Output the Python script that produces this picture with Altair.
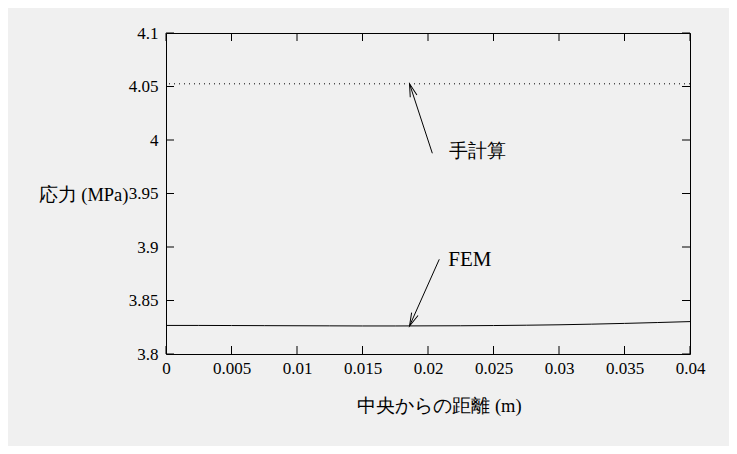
import math
import altair as alt
import pandas as pd

# ---- data ----
fem_x = [0.0, 0.0025, 0.005, 0.0075, 0.01, 0.0125, 0.015, 0.0175, 0.02,
         0.0225, 0.025, 0.0275, 0.03, 0.0325, 0.035, 0.0375, 0.04]
fem_y = [3.8267, 3.8267, 3.8266, 3.8265, 3.8264, 3.8263, 3.8262, 3.8262, 3.8263,
         3.8264, 3.8266, 3.8269, 3.8273, 3.8279, 3.8286, 3.8294, 3.8303]
hand_value = 4.0525

x_ticks = [0, 0.005, 0.01, 0.015, 0.02, 0.025, 0.03, 0.035, 0.04]
y_ticks = [3.8, 3.85, 3.9, 3.95, 4.0, 4.05, 4.1]

ann_text = ["手計算", "FEM"]
ann_text_x = [0.0216, 0.02155]
ann_text_y = [3.990, 3.8879]
arrow_x1 = [0.02033, 0.02086]
arrow_y1 = [3.9876, 3.8885]
arrow_x2 = [0.01859, 0.01859]
arrow_y2 = [4.0525, 3.8262]

# ---- layout / style ----
W, H = 524, 321
X_DOM = [0, 0.04]
Y_DOM = [3.8, 4.1]
FONT = "Liberation Serif"
BG = "#f0f0f0"

fem_df = pd.DataFrame({"x": fem_x, "y": fem_y})
xt_df = pd.DataFrame({"x": x_ticks})
yt_df = pd.DataFrame({"y": y_ticks})
ann_df = pd.DataFrame({"text": ann_text, "x": ann_text_x, "y": ann_text_y})

angles = []
for x1, y1, x2, y2 in zip(arrow_x1, arrow_y1, arrow_x2, arrow_y2):
    dx = (x2 - x1) * W / (X_DOM[1] - X_DOM[0])
    dy = -(y2 - y1) * H / (Y_DOM[1] - Y_DOM[0])
    angles.append(math.degrees(math.atan2(dx, -dy)) % 360)
arr_df = pd.DataFrame({"x1": arrow_x1, "y1": arrow_y1, "x2": arrow_x2,
                       "y2": arrow_y2, "angle": angles})

xs = alt.Scale(domain=X_DOM, nice=False, zero=False)
ys = alt.Scale(domain=Y_DOM, nice=False, zero=False)

x_axis = alt.Axis(values=x_ticks, format="~g", labelFont=FONT, labelFontSize=17,
                  labelColor="black", ticks=False, domain=False, grid=False,
                  labelPadding=6, labelOverlap=False, labelFlush=False,
                  title="中央からの距離 (m)", titleFont=FONT, titleFontSize=18.5,
                  titleFontWeight="normal", titleColor="black",
                  titleX=273, titleY=51, titleAlign="center",
                  titleBaseline="middle", titleAnchor="start")
y_axis = alt.Axis(values=y_ticks, format="~g", labelFont=FONT, labelFontSize=17,
                  labelColor="black", ticks=False, domain=False, grid=False,
                  labelPadding=8, labelOverlap=False, labelFlush=False,
                  title="応力 (MPa)", titleFont=FONT, titleFontSize=18.5,
                  titleFontWeight="normal", titleColor="black", titleAngle=0,
                  titleAlign="right", titleBaseline="middle",
                  titleX=-38, titleY=161, titleAnchor="start")

base_axes = alt.Chart(fem_df).mark_line(stroke="black", strokeWidth=1).encode(
    x=alt.X("x:Q", scale=xs, axis=x_axis),
    y=alt.Y("y:Q", scale=ys, axis=y_axis),
)

hand_line = alt.Chart(pd.DataFrame({"y": [hand_value]})).mark_rule(
    stroke="black", strokeWidth=1, strokeDash=[1, 4]
).encode(y=alt.Y("y:Q", scale=ys))

tick_bottom = alt.Chart(xt_df).mark_rule(stroke="black", strokeWidth=1).encode(
    x=alt.X("x:Q", scale=xs), y=alt.value(H), y2=alt.value(H - 8))
tick_top = alt.Chart(xt_df).mark_rule(stroke="black", strokeWidth=1).encode(
    x=alt.X("x:Q", scale=xs), y=alt.value(0), y2=alt.value(8))
tick_left = alt.Chart(yt_df).mark_rule(stroke="black", strokeWidth=1).encode(
    y=alt.Y("y:Q", scale=ys), x=alt.value(0), x2=alt.value(8))
tick_right = alt.Chart(yt_df).mark_rule(stroke="black", strokeWidth=1).encode(
    y=alt.Y("y:Q", scale=ys), x=alt.value(W), x2=alt.value(W - 8))

shafts = alt.Chart(arr_df).mark_rule(stroke="black", strokeWidth=1).encode(
    x=alt.X("x1:Q", scale=xs), y=alt.Y("y1:Q", scale=ys),
    x2="x2:Q", y2="y2:Q")
heads = alt.Chart(arr_df).mark_point(
    shape="M -0.27 1 L 0 0 L 0.27 1", filled=False, stroke="black",
    strokeWidth=1, size=676, opacity=1
).encode(x=alt.X("x2:Q", scale=xs), y=alt.Y("y2:Q", scale=ys),
         angle=alt.Angle("angle:Q", scale=None))

label_jp = alt.Chart(ann_df).transform_filter(
    alt.datum.text == ann_text[0]
).mark_text(
    align="left", baseline="middle", font=FONT, fontSize=19, color="black"
).encode(x=alt.X("x:Q", scale=xs), y=alt.Y("y:Q", scale=ys), text="text:N")
label_fem = alt.Chart(ann_df).transform_filter(
    alt.datum.text == ann_text[1]
).mark_text(
    align="left", baseline="middle", font=FONT, fontSize=21, color="black"
).encode(x=alt.X("x:Q", scale=xs), y=alt.Y("y:Q", scale=ys), text="text:N")

chart = alt.layer(
    hand_line, base_axes, tick_bottom, tick_top, tick_left, tick_right,
    shafts, heads, label_jp, label_fem
).properties(
    width=W, height=H, background=BG,
    padding={"left": 158, "top": 25, "right": 39, "bottom": 92},
    autosize=alt.AutoSizeParams(type="none"),
).configure_view(stroke="black", strokeWidth=1)

chart.save("out.html", embed_options={"renderer": "svg", "actions": False})
